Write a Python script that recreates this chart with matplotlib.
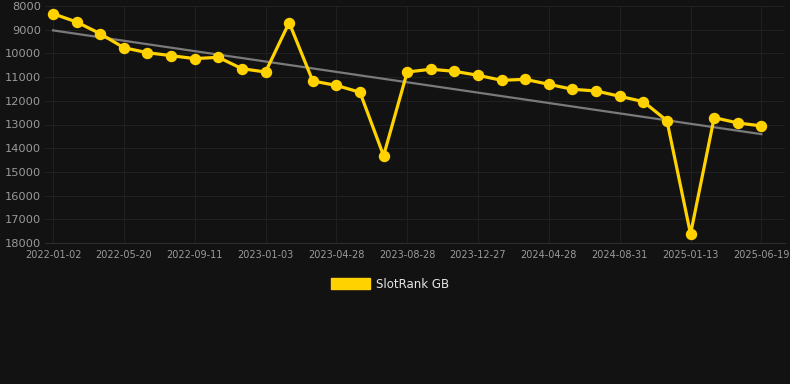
import numpy as np
import matplotlib
matplotlib.use("Agg")
import matplotlib.pyplot as plt
from matplotlib.patches import Patch

tick_labels = ["2022-01-02", "2022-05-20", "2022-09-11", "2023-01-03", "2023-04-28",
               "2023-08-28", "2023-12-27", "2024-04-28", "2024-08-31", "2025-01-13",
               "2025-06-19"]
rank = [8325, 8675, 9170, 9760, 9970, 10095, 10220, 10165, 10645, 10785,
        8700, 11165, 11350, 11640, 14315, 10785, 10670, 10755, 10925, 11135,
        11095, 11305, 11515, 11585, 11810, 12035, 12840, 17620, 12710, 12935,
        13060]
series_name = "SlotRank GB"

BG = "#121212"
W, H = 790, 384
fig = plt.figure(figsize=(W / 100, H / 100), dpi=100, facecolor=BG)
ax = fig.add_axes([45 / W, (H - 243) / H, (785 - 45) / W, (243 - 6) / H], facecolor=BG)

x = np.arange(len(rank))
coef = np.polyfit(x, rank, 1)
trend = np.polyval(coef, x)

ax.plot(x, trend, color="#7a7a7a", lw=1.6, zorder=2)
ax.plot(x, rank, color="#FFD200", lw=2.3, marker="o", ms=7.2, mec="#FFD200",
        mfc="#FFD200", zorder=3, clip_on=False)

ax.set_ylim(18000, 8000)
ax.set_yticks(np.arange(8000, 18001, 1000))
ax.set_xlim(-0.34, 31.0)
tick_pos = x[::3]
ax.set_xticks(tick_pos)
ax.set_xticklabels(tick_labels)

ax.grid(True, color="#202020", lw=0.8)
ax.set_axisbelow(True)
for s in ["top", "right", "left"]:
    ax.spines[s].set_visible(False)
ax.spines["bottom"].set_color("#2c2c2c")
ax.tick_params(axis="y", colors="#9a9a9a", labelsize=8.2, length=0, pad=3)
ax.tick_params(axis="x", colors="#9a9a9a", labelsize=7.0, length=0, pad=5)

fig.legend(handles=[Patch(facecolor="#FFD200", edgecolor="#FFD200")], labels=[series_name],
           loc="center", bbox_to_anchor=(390 / W, 1 - 284 / H), frameon=False,
           fontsize=8.5, labelcolor="#e6e6e6", handlelength=3.3, handleheight=1.0,
           handletextpad=0.5)

fig.savefig("out.png", dpi=100, facecolor=BG)
